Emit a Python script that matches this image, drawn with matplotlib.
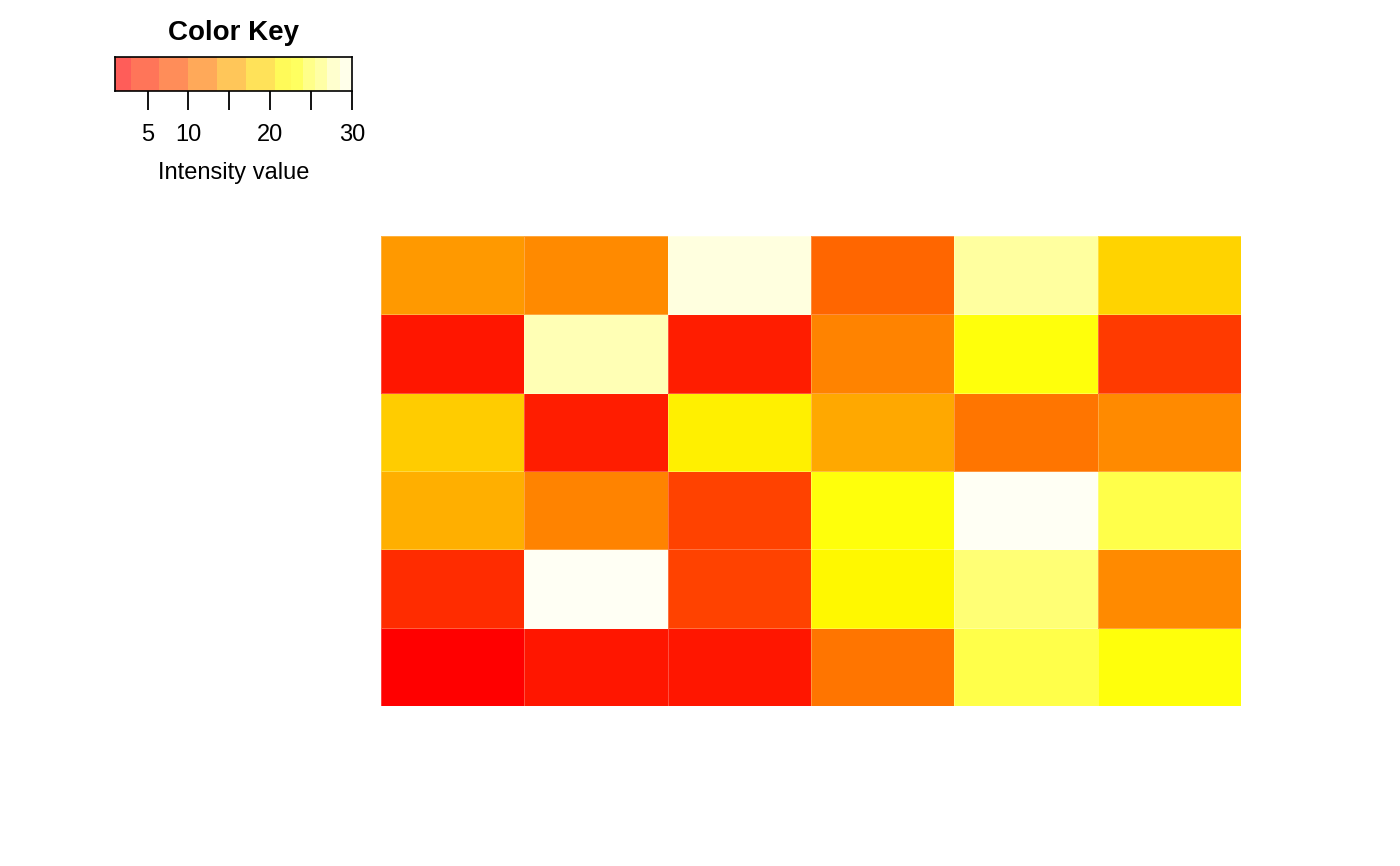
import colorsys
import matplotlib
matplotlib.use("Agg")
import matplotlib.pyplot as plt
from matplotlib.colors import ListedColormap
import numpy as np

plt.rcParams["font.family"] = ["Liberation Sans", "DejaVu Sans"]

# cell values, top row first
row1 = [14, 13, 29, 10, 27, 19]
row2 = [3, 28, 4, 12, 23, 6]
row3 = [18, 4, 21, 15, 11, 13]
row4 = [16, 12, 7, 23, 30, 25]
row5 = [5, 30, 7, 22, 26, 13]
row6 = [1, 3, 3, 11, 25, 23]
values = np.array([row1, row2, row3, row4, row5, row6], dtype=float)

vmin, vmax = 1, 30
key_ticks = [5, 10, 15, 20, 25, 30]
key_labels = ["5", "10", "", "20", "", "30"]
# bands seen in the colour key
key_breaks = [1, 3, 6.4, 9.9, 13.5, 17, 20.6, 22.5, 24, 25.5, 27, 28.5, 30]


def heat_colors(n):
    # same recipe as R's heat.colors()
    j = n // 4
    i = n - j
    cols = []
    for h in np.linspace(0, 1 / 6, i):
        cols.append(colorsys.hsv_to_rgb(h, 1, 1))
    if j > 0:
        for s in np.linspace(1 - 1 / (2 * j), 1 / (2 * j), j):
            cols.append(colorsys.hsv_to_rgb(1 / 6, s, 1))
    return cols


cmap = ListedColormap(heat_colors(48))

fig = plt.figure(figsize=(14, 8.66), dpi=100)

# main heatmap
ax = fig.add_axes([0.2721, 0.1848, 0.6143, 0.5427])
ax.pcolormesh(values[::-1], cmap=cmap, vmin=vmin, vmax=vmax,
              edgecolors=(1, 1, 1, 0.25), linewidth=0.6)
ax.set_xlim(0, values.shape[1])
ax.set_ylim(0, values.shape[0])
ax.axis("off")

# colour key
kax = fig.add_axes([0.0821, 0.8949, 0.1693, 0.0393])
for lo, hi in zip(key_breaks[:-1], key_breaks[1:]):
    mid = ((lo + hi) / 2 - vmin) / (vmax - vmin)
    kax.axvspan(lo, hi, color=cmap(mid), alpha=0.65, lw=0)
kax.set_xlim(vmin, vmax)
kax.set_ylim(0, 1)
kax.set_yticks([])
kax.set_xticks(key_ticks)
kax.set_xticklabels(key_labels, fontsize=17)
kax.tick_params(axis="x", length=14, width=1.3, pad=10)
for sp in kax.spines.values():
    sp.set_linewidth(1.2)
kax.set_xlabel("Intensity value", fontsize=17, labelpad=11)
kax.set_title("Color Key", fontsize=20, fontweight="bold", pad=12)

fig.savefig("out.png", dpi=100)
